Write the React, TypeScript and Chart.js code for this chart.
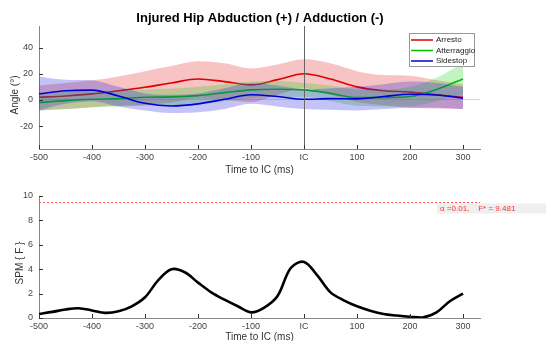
import React, { useEffect, useRef } from "react";
import { Chart, registerables } from "chart.js";
Chart.register(...registerables);

const FONT = "'Liberation Sans', Arial, sans-serif";

const TIME = [-500, -450, -400, -350, -300, -250, -200, -150, -100, -50, 0, 50, 100, 150, 200, 250, 300];
const ARRESTO_MEAN = [2, 3, 4.6, 7, 9.7, 13, 16, 14, 11.5, 15.5, 20, 16, 10, 7, 6, 4, 2];
const ARRESTO_UPPER = [11, 13, 15, 18, 22, 26, 29.5, 28, 24, 27, 31, 28, 22, 19, 18.5, 15, 12];
const ARRESTO_LOWER = [-8, -7, -5.5, -4.5, -4, -2, 1, 0, -1.5, 4, 9, 4, -1.5, -4, -6, -6.5, -7];
const ATTERRAGGIO_MEAN = [-2, -0.5, 0.5, 1, 2, 2.3, 3.3, 5.6, 7.7, 8.2, 7.7, 5, 1.8, 1.8, 2.6, 8, 16];
const ATTERRAGGIO_UPPER = [4, 6, 6.5, 7, 8, 8.5, 10, 12, 14, 14.5, 13, 11, 8, 8, 10, 17, 28];
const ATTERRAGGIO_LOWER = [-8, -7, -5.5, -5, -4, -4, -3.5, -1, 1.5, 2, 2.5, -1, -4.5, -5, -5, -1, 4];
const SIDESTOP_MEAN = [4.6, 7, 7.5, 3, -2.6, -4.6, -3, 0.5, 4, 2.6, 0.5, 1, 0.8, 2.6, 4.3, 3.8, 1.3];
const SIDESTOP_UPPER = [18, 15.5, 15, 10, 5, 4, 5, 9, 13, 11, 8, 9, 10, 12, 14, 13, 10];
const SIDESTOP_LOWER = [-8, -3, -1, -5, -8, -10, -9.5, -7, -3, -5, -7, -7.5, -8, -7, -6, -6, -7];

const TIME_SPM = [-500, -475, -450, -425, -400, -375, -350, -325, -300, -275, -250, -225, -200, -175, -150, -125, -100, -75, -50, -25, 0, 25, 50, 75, 100, 125, 150, 175, 200, 225, 250, 275, 300];
const SPM_F = [0.33, 0.5, 0.7, 0.8, 0.62, 0.42, 0.55, 0.96, 1.7, 3.1, 4.0, 3.75, 2.9, 2.1, 1.5, 0.96, 0.46, 0.85, 1.8, 4.1, 4.6, 3.5, 2.1, 1.45, 0.96, 0.6, 0.33, 0.2, 0.1, 0.05, 0.46, 1.37, 2.0];

const TIME_TICKS = [-500, -400, -300, -200, -100, 0, 100, 200, 300];
const ANGLE_TICKS = [-20, 0, 20, 40];
const SPM_TICKS = [0, 2, 4, 6, 8, 10];
const F_STAR = 9.481;
const ALPHA = 0.01;

const GROUPS = [
  { label: "Arresto", mean: ARRESTO_MEAN, upper: ARRESTO_UPPER, lower: ARRESTO_LOWER, line: "rgb(220,0,0)", band: "rgba(225,40,40,0.28)" },
  { label: "Atterraggio", mean: ATTERRAGGIO_MEAN, upper: ATTERRAGGIO_UPPER, lower: ATTERRAGGIO_LOWER, line: "rgb(0,190,0)", band: "rgba(40,210,40,0.28)" },
  { label: "Sidestop", mean: SIDESTOP_MEAN, upper: SIDESTOP_UPPER, lower: SIDESTOP_LOWER, line: "rgb(0,0,210)", band: "rgba(40,40,225,0.28)" },
];

const xy = (xs: number[], ys: number[]) => xs.map((x, i) => ({ x, y: ys[i] }));

const timeLabel = (v: any) => (v === 0 ? "IC" : String(v));

function inwardTicks(chart: any) {
  const { ctx, chartArea, scales } = chart;
  ctx.save();
  ctx.strokeStyle = "#333";
  ctx.lineWidth = 1;
  ctx.beginPath();
  scales.x.ticks.forEach((t: any) => {
    const px = Math.round(scales.x.getPixelForValue(t.value)) + 0.5;
    ctx.moveTo(px, chartArea.bottom);
    ctx.lineTo(px, chartArea.bottom - 4);
  });
  scales.y.ticks.forEach((t: any) => {
    const py = Math.round(scales.y.getPixelForValue(t.value)) + 0.5;
    ctx.moveTo(chartArea.left, py);
    ctx.lineTo(chartArea.left + 4, py);
  });
  ctx.stroke();
  ctx.restore();
}

function yTitle(ctx: any, text: string, x: number, y: number) {
  ctx.save();
  ctx.translate(x, y);
  ctx.rotate(-Math.PI / 2);
  ctx.font = `10px ${FONT}`;
  ctx.fillStyle = "#333";
  ctx.textAlign = "center";
  ctx.textBaseline = "middle";
  ctx.fillText(text, 0, 0);
  ctx.restore();
}

const topDecor = {
  id: "topDecor",
  afterDatasetsDraw(chart: any) {
    const { ctx, chartArea, scales } = chart;
    const x0 = Math.round(scales.x.getPixelForValue(0)) + 0.5;
    ctx.save();
    ctx.strokeStyle = "#666";
    ctx.lineWidth = 1;
    ctx.beginPath();
    ctx.moveTo(x0, chartArea.top);
    ctx.lineTo(x0, chartArea.bottom);
    ctx.stroke();
    ctx.restore();
  },
  afterDraw(chart: any) {
    const { ctx } = chart;
    inwardTicks(chart);
    ctx.save();
    ctx.font = `bold 13px ${FONT}`;
    ctx.fillStyle = "#000";
    ctx.textAlign = "center";
    ctx.textBaseline = "middle";
    ctx.fillText("Injured Hip Abduction (+) / Adduction (-)", 260, 18);
    ctx.restore();
    yTitle(ctx, "Angle (°)", 15, 95);
    ctx.save();
    const bx = 409.5, by = 33.5, bw = 65, bh = 33;
    ctx.fillStyle = "#fff";
    ctx.fillRect(bx, by, bw, bh);
    ctx.strokeStyle = "#999";
    ctx.lineWidth = 1;
    ctx.strokeRect(bx, by, bw, bh);
    ctx.font = `8px ${FONT}`;
    ctx.textBaseline = "middle";
    ctx.textAlign = "left";
    GROUPS.forEach((g, i) => {
      const yy = 40 + i * 10.5;
      ctx.strokeStyle = g.line;
      ctx.lineWidth = 1.5;
      ctx.beginPath();
      ctx.moveTo(411, yy);
      ctx.lineTo(433, yy);
      ctx.stroke();
      ctx.fillStyle = "#222";
      ctx.fillText(g.label, 436, yy);
    });
    ctx.restore();
  },
};

const bottomDecor = {
  id: "bottomDecor",
  afterDraw(chart: any) {
    const { ctx, chartArea, scales } = chart;
    inwardTicks(chart);
    yTitle(ctx, "SPM { F }", 20, 83);
    const yy = Math.round(scales.y.getPixelForValue(F_STAR)) + 0.5;
    ctx.save();
    ctx.strokeStyle = "rgba(255,60,60,0.9)";
    ctx.lineWidth = 1;
    ctx.setLineDash([2, 2]);
    ctx.beginPath();
    ctx.moveTo(chartArea.left, yy);
    ctx.lineTo(chartArea.right, yy);
    ctx.stroke();
    ctx.setLineDash([]);
    ctx.fillStyle = "#efefef";
    ctx.fillRect(437, yy + 1, 109, 10);
    ctx.font = `8px ${FONT}`;
    ctx.fillStyle = "#ff3030";
    ctx.textAlign = "left";
    ctx.textBaseline = "middle";
    ctx.fillText(`α =${ALPHA},    F* = ${F_STAR}`, 440, yy + 6.5);
    ctx.restore();
  },
};

function xScale(height: number, titlePadBottom: number) {
  return {
    type: "linear",
    min: -500,
    max: 332,
    afterBuildTicks: (s: any) => {
      s.ticks = TIME_TICKS.map((v) => ({ value: v }));
    },
    afterFit: (s: any) => {
      s.height = height;
    },
    ticks: { callback: timeLabel, font: { size: 9, family: FONT }, color: "#444", padding: 3, maxRotation: 0, autoSkip: false },
    grid: { display: false, drawTicks: false, tickLength: 0 },
    border: { display: true, color: "#888" },
    title: { display: true, text: "Time to IC (ms)", font: { size: 10, family: FONT }, color: "#333", padding: { top: 0, bottom: titlePadBottom } },
  };
}

export default function App() {
  const topRef = useRef<HTMLCanvasElement>(null);
  const botRef = useRef<HTMLCanvasElement>(null);

  useEffect(() => {
    const datasets: any[] = [];
    GROUPS.forEach((g, gi) => {
      const base = 30 - gi * 10;
      datasets.push({
        label: g.label + " upper",
        data: xy(TIME, g.upper),
        borderColor: "transparent",
        borderWidth: 0,
        pointRadius: 0,
        backgroundColor: g.band,
        fill: "+1",
        cubicInterpolationMode: "monotone",
        order: base,
      });
      datasets.push({
        label: g.label + " lower",
        data: xy(TIME, g.lower),
        borderColor: "transparent",
        borderWidth: 0,
        pointRadius: 0,
        fill: false,
        cubicInterpolationMode: "monotone",
        order: base - 1,
      });
      datasets.push({
        label: g.label,
        data: xy(TIME, g.mean),
        borderColor: g.line,
        borderWidth: 1.6,
        pointRadius: 0,
        fill: false,
        cubicInterpolationMode: "monotone",
        order: base - 2,
      });
    });

    const top = new Chart(topRef.current!, {
      type: "line",
      data: { datasets },
      options: {
        animation: false,
        responsive: false,
        layout: { padding: { left: 0, top: 26, right: 66, bottom: 0 } },
        plugins: { legend: { display: false }, tooltip: { enabled: false }, filler: { drawTime: "beforeDatasetDraw" } as any },
        scales: {
          x: xScale(31, 4) as any,
          y: {
            type: "linear",
            min: -37.5,
            max: 56.5,
            afterBuildTicks: (s: any) => {
              s.ticks = ANGLE_TICKS.map((v) => ({ value: v }));
            },
            afterFit: (s: any) => {
              s.width = 39;
            },
            ticks: { font: { size: 9, family: FONT }, color: "#444", padding: 6 },
            grid: { drawTicks: false, tickLength: 0, color: (c: any) => (c.tick && c.tick.value === 0 ? "#d9d9d9" : "transparent") },
            border: { display: true, color: "#888" },
          },
        },
      },
      plugins: [topDecor],
    });

    const bottom = new Chart(botRef.current!, {
      type: "line",
      data: {
        datasets: [
          {
            label: "SPM{F}",
            data: xy(TIME_SPM, SPM_F),
            borderColor: "#000",
            borderWidth: 2.6,
            pointRadius: 0,
            fill: false,
            tension: 0.35,
            borderJoinStyle: "round",
          },
        ],
      },
      options: {
        animation: false,
        responsive: false,
        layout: { padding: { left: 0, top: 16, right: 66, bottom: 0 } },
        plugins: { legend: { display: false }, tooltip: { enabled: false } },
        scales: {
          x: xScale(23, -2) as any,
          y: {
            type: "linear",
            min: 0,
            max: 10,
            afterBuildTicks: (s: any) => {
              s.ticks = SPM_TICKS.map((v) => ({ value: v }));
            },
            afterFit: (s: any) => {
              s.width = 39;
            },
            ticks: { font: { size: 9, family: FONT }, color: "#444", padding: 6 },
            grid: { display: false, drawTicks: false, tickLength: 0 },
            border: { display: true, color: "#888" },
          },
        },
      },
      plugins: [bottomDecor],
    });

    return () => {
      top.destroy();
      bottom.destroy();
    };
  }, []);

  return (
    <div style={{ position: "absolute", left: 0, top: 0, width: 546, height: 341, background: "#fff", overflow: "hidden" }}>
      <canvas ref={topRef} width={546} height={180} style={{ position: "absolute", left: 0, top: 0, width: 546, height: 180 }} />
      <canvas ref={botRef} width={546} height={161} style={{ position: "absolute", left: 0, top: 180, width: 546, height: 161 }} />
    </div>
  );
}
